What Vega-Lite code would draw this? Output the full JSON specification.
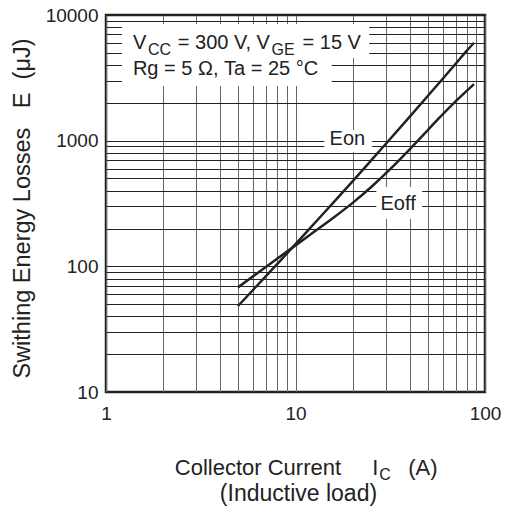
{
  "$schema": "https://vega.github.io/schema/vega-lite/v6.json",
  "width": 379,
  "height": 377,
  "autosize": {"type": "none"},
  "padding": {"left": 106, "top": 15, "right": 21, "bottom": 119},
  "background": "white",
  "config": {
    "view": {"stroke": "#222", "strokeWidth": 2.5},
    "font": "Liberation Sans"
  },
  "datasets": {
    "curves": [
      {"series": "Eon", "x": 4.97, "y": 48.3},
      {"series": "Eon", "x": 6, "y": 65.4},
      {"series": "Eon", "x": 7, "y": 83.9},
      {"series": "Eon", "x": 8, "y": 104.2},
      {"series": "Eon", "x": 10, "y": 150},
      {"series": "Eon", "x": 12, "y": 203},
      {"series": "Eon", "x": 15, "y": 294},
      {"series": "Eon", "x": 20, "y": 475},
      {"series": "Eon", "x": 25, "y": 693},
      {"series": "Eon", "x": 30, "y": 945},
      {"series": "Eon", "x": 40, "y": 1547},
      {"series": "Eon", "x": 50, "y": 2276},
      {"series": "Eon", "x": 60, "y": 3125},
      {"series": "Eon", "x": 70, "y": 4094},
      {"series": "Eon", "x": 80, "y": 5178},
      {"series": "Eon", "x": 87.5, "y": 6012},
      {"series": "Eoff", "x": 4.97, "y": 68},
      {"series": "Eoff", "x": 7, "y": 99.1},
      {"series": "Eoff", "x": 10, "y": 146.8},
      {"series": "Eoff", "x": 12.59, "y": 189.1},
      {"series": "Eoff", "x": 15.85, "y": 243.6},
      {"series": "Eoff", "x": 19.95, "y": 318.4},
      {"series": "Eoff", "x": 25.1, "y": 428},
      {"series": "Eoff", "x": 31.6, "y": 593},
      {"series": "Eoff", "x": 39.8, "y": 845},
      {"series": "Eoff", "x": 50.1, "y": 1221},
      {"series": "Eoff", "x": 56.2, "y": 1468},
      {"series": "Eoff", "x": 70.8, "y": 2091},
      {"series": "Eoff", "x": 87.5, "y": 2821}
    ],
    "masks": [
      {"x": 1.214, "x2": 24.5, "y": 8470, "y2": 4540},
      {"x": 1.214, "x2": 15.5, "y": 4540, "y2": 2718},
      {"x": 14.2, "x2": 25.4, "y": 1214, "y2": 811},
      {"x": 26.7, "x2": 46.6, "y": 427, "y2": 238}
    ],
    "texts": [
      {"text": "V", "x": 1.387, "y": 5408, "role": "piece"},
      {"text": "CC", "x": 1.664, "y": 4797, "role": "subscript"},
      {"text": "= 300 V, V", "x": 2.393, "y": 5408, "role": "piece"},
      {"text": "GE", "x": 7.477, "y": 4797, "role": "subscript"},
      {"text": "= 15 V", "x": 10.89, "y": 5408, "role": "piece"},
      {"text": "Rg = 5 Ω, Ta = 25 °C", "x": 1.387, "y": 3326, "role": "piece"},
      {"text": "Collector Current", "x": 2.307, "y": 2.188, "role": "title"},
      {"text": "I", "x": 25.4, "y": 2.188, "role": "title"},
      {"text": "C", "x": 27.7, "y": 1.995, "role": "subscript"},
      {"text": "(A)", "x": 39.3, "y": 2.188, "role": "title"},
      {"text": "(Inductive load)", "x": 10.37, "y": 1.358, "role": "title2"},
      {"text": "Eon", "x": 18.78, "y": 923, "role": "label"},
      {"text": "Eoff", "x": 34.8, "y": 280.6, "role": "label"}
    ]
  },
  "layer": [
    {
      "data": {"name": "masks"},
      "mark": {"type": "rect", "fill": "white", "strokeWidth": 0},
      "encoding": {
        "x": {
          "field": "x", "type": "quantitative",
          "scale": {"type": "log", "domain": [1, 100]},
          "axis": {
            "title": null,
            "values": [1, 2, 3, 4, 5, 6, 7, 8, 9, 10, 20, 30, 40, 50, 60, 70, 80, 90, 100],
            "format": "d",
            "labelExpr": "indexof([1, 10, 100], datum.value) >= 0 ? datum.label : ''",
            "labelOverlap": false,
            "labelFlush": false,
            "labelFont": "Liberation Sans",
            "labelFontSize": 19,
            "labelColor": "#222",
            "labelPadding": 12,
            "ticks": false,
            "domain": false,
            "grid": true,
            "gridColor": "#666",
            "gridWidth": 1,
            "gridOpacity": 1
          }
        },
        "x2": {"field": "x2"},
        "y": {
          "field": "y", "type": "quantitative",
          "scale": {"type": "log", "domain": [10, 10000]},
          "axis": {
            "title": "Swithing Energy Losses\u00a0\u00a0\u00a0E\u00a0\u00a0(μJ)",
            "titleFont": "Liberation Sans",
            "titleFontSize": 23.5,
            "titleFontWeight": "normal",
            "titleColor": "#222",
            "titleX": -84,
            "titleY": 193,
            "titleAngle": -90,
            "titleAlign": "center",
            "titleBaseline": "middle",
            "values": [10, 20, 30, 40, 50, 60, 70, 80, 90, 100, 200, 300, 400, 500, 600, 700, 800, 900, 1000, 2000, 3000, 4000, 5000, 6000, 7000, 8000, 9000, 10000],
            "format": "d",
            "labelExpr": "indexof([10, 100, 1000, 10000], datum.value) >= 0 ? datum.label : ''",
            "labelOverlap": false,
            "labelFlush": false,
            "labelBound": false,
            "labelFont": "Liberation Sans",
            "labelFontSize": 19,
            "labelColor": "#222",
            "labelPadding": 8,
            "ticks": false,
            "domain": false,
            "grid": true,
            "gridColor": "#222",
            "gridWidth": 1,
            "gridOpacity": 1
          }
        },
        "y2": {"field": "y2"}
      }
    },
    {
      "data": {"name": "curves"},
      "mark": {"type": "line", "color": "#222", "strokeWidth": 2.5, "interpolate": "monotone"},
      "encoding": {
        "x": {"field": "x", "type": "quantitative"},
        "y": {"field": "y", "type": "quantitative"},
        "detail": {"field": "series"}
      }
    },
    {
      "data": {"name": "texts"},
      "transform": [{"filter": "datum.role == 'piece'"}],
      "mark": {"type": "text", "align": "left", "baseline": "alphabetic", "font": "Liberation Sans", "fontSize": 20, "color": "#222"},
      "encoding": {
        "x": {"field": "x", "type": "quantitative"},
        "y": {"field": "y", "type": "quantitative"},
        "text": {"field": "text"}
      }
    },
    {
      "data": {"name": "texts"},
      "transform": [{"filter": "datum.role == 'subscript'"}],
      "mark": {"type": "text", "align": "left", "baseline": "alphabetic", "font": "Liberation Sans", "fontSize": 16, "color": "#222"},
      "encoding": {
        "x": {"field": "x", "type": "quantitative"},
        "y": {"field": "y", "type": "quantitative"},
        "text": {"field": "text"}
      }
    },
    {
      "data": {"name": "texts"},
      "transform": [{"filter": "datum.role == 'title'"}],
      "mark": {"type": "text", "align": "left", "baseline": "alphabetic", "font": "Liberation Sans", "fontSize": 22, "color": "#222"},
      "encoding": {
        "x": {"field": "x", "type": "quantitative"},
        "y": {"field": "y", "type": "quantitative"},
        "text": {"field": "text"}
      }
    },
    {
      "data": {"name": "texts"},
      "transform": [{"filter": "datum.role == 'title2'"}],
      "mark": {"type": "text", "align": "center", "baseline": "alphabetic", "font": "Liberation Sans", "fontSize": 23, "color": "#222"},
      "encoding": {
        "x": {"field": "x", "type": "quantitative"},
        "y": {"field": "y", "type": "quantitative"},
        "text": {"field": "text"}
      }
    },
    {
      "data": {"name": "texts"},
      "transform": [{"filter": "datum.role == 'label'"}],
      "mark": {"type": "text", "align": "center", "baseline": "alphabetic", "font": "Liberation Sans", "fontSize": 20, "color": "#222"},
      "encoding": {
        "x": {"field": "x", "type": "quantitative"},
        "y": {"field": "y", "type": "quantitative"},
        "text": {"field": "text"}
      }
    }
  ]
}
